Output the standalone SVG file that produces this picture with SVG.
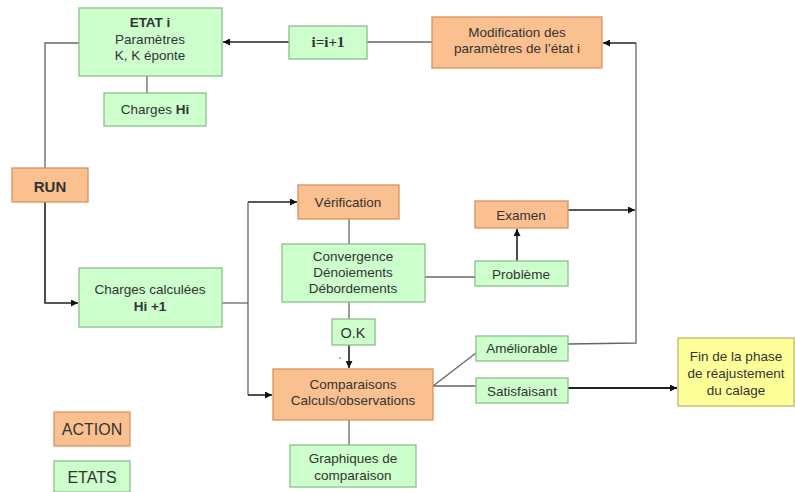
<svg xmlns="http://www.w3.org/2000/svg" width="795" height="492" viewBox="0 0 795 492">
<style>
.a{fill:#FAC090;stroke:#D9925F;stroke-width:1.3}
.s{fill:#CCFFCC;stroke:#8DBF8D;stroke-width:1.3}
.y{fill:#FFFF99;stroke:#B8B870;stroke-width:1.3}
text{font-family:"Liberation Sans",Arial,sans-serif;font-size:13.5px;fill:#333;text-anchor:middle}
.b{font-weight:bold}
.t{font-family:"Liberation Serif","Times New Roman",serif;font-weight:bold;font-size:15px}
.l{fill:none;stroke:#666;stroke-width:1.3}
.k{fill:none;stroke:#222;stroke-width:1.6}
</style>
<defs>
<marker id="ar" viewBox="0 0 10 10" refX="10" refY="5" markerWidth="7" markerHeight="7" markerUnits="userSpaceOnUse" orient="auto">
<path d="M0,0 L10,5 L0,10 z" fill="#111"/>
</marker>
</defs>
<rect width="795" height="492" fill="#fff"/>
<g id="connectors">
<path class="l" d="M147,76 V93"/>
<path class="k" d="M289,42 H223" marker-end="url(#ar)"/>
<path class="l" d="M367,42 H432"/>
<path class="l" d="M79,43 H45 V168"/>
<path class="k" d="M45,202 V303 H78" marker-end="url(#ar)"/>
<path class="l" d="M222,303 H248"/>
<path class="k" d="M248,202 H297" marker-end="url(#ar)"/>
<path class="l" d="M248,202 V395"/>
<path class="k" d="M248,395 H272" marker-end="url(#ar)"/>
<path class="l" d="M349,219 V244"/>
<path class="l" d="M349,302 V319"/>
<path class="k" d="M349,345 V368" marker-end="url(#ar)"/>
<path class="l" d="M349,420 V445"/>
<path class="l" d="M425,277 H475"/>
<path class="k" d="M517,261 V229" marker-end="url(#ar)"/>
<path class="k" d="M568,210 H635" marker-end="url(#ar)"/>
<path class="l" d="M568,344 L636,343 V43"/>
<path class="k" d="M636,43 H603" marker-end="url(#ar)"/>
<path class="l" d="M433,386 L476,353"/>
<path class="l" d="M433,386 H476"/>
<path class="k" style="stroke-width:2.2" d="M568,388 H677" marker-end="url(#ar)"/>
<circle cx="340" cy="358" r="0.8" fill="#555"/>
</g>
<g id="etat-i"><rect class="s" x="79" y="8" width="143" height="68"/><text x="150" y="27" class="b">ETAT i</text><text x="150" y="44">Paramètres</text><text x="150" y="60">K, K éponte</text></g>
<g id="charges-hi"><rect class="s" x="104" y="93" width="102" height="33"/><text x="155" y="114">Charges <tspan class="b">Hi</tspan></text></g>
<g id="incr"><rect class="s" x="289" y="26" width="78" height="33"/><text x="328" y="47" class="t">i=i+1</text></g>
<g id="modification"><rect class="a" x="432" y="17" width="170" height="51"/><text x="517" y="37">Modification des</text><text x="517" y="53">paramètres de l’état i</text></g>
<g id="run"><rect class="a" x="12" y="168" width="76" height="34"/><text x="50" y="192" class="b" style="font-size:15px">RUN</text></g>
<g id="charges-calc"><rect class="s" x="79" y="268" width="143" height="59"/><text x="150" y="294">Charges calculées</text><text x="150" y="311" class="b">Hi +1</text></g>
<g id="verification"><rect class="a" x="298" y="185" width="101" height="34"/><text x="348" y="207">Vérification</text></g>
<g id="convergence"><rect class="s" x="282" y="244" width="143" height="58"/><text x="353" y="261">Convergence</text><text x="353" y="277">Dénoiements</text><text x="353" y="293">Débordements</text></g>
<g id="ok"><rect class="s" x="332" y="319" width="43" height="26"/><text x="353" y="338" style="font-size:14.5px">O.K</text></g>
<g id="comparaisons"><rect class="a" x="273" y="369" width="160" height="51"/><text x="353" y="389">Comparaisons</text><text x="353" y="405">Calculs/observations</text></g>
<g id="graphiques"><rect class="s" x="290" y="445" width="126" height="42"/><text x="353" y="463">Graphiques de</text><text x="353" y="480">comparaison</text></g>
<g id="examen"><rect class="a" x="475" y="201" width="93" height="27"/><text x="521" y="220">Examen</text></g>
<g id="probleme"><rect class="s" x="475" y="261" width="93" height="25"/><text x="521" y="279">Problème</text></g>
<g id="ameliorable"><rect class="s" x="476" y="336" width="92" height="25"/><text x="522" y="353">Améliorable</text></g>
<g id="satisfaisant"><rect class="s" x="476" y="378" width="92" height="25"/><text x="522" y="396">Satisfaisant</text></g>
<g id="fin"><rect class="y" x="678" y="338" width="116" height="68"/><text x="736" y="361">Fin de la phase</text><text x="736" y="378">de réajustement</text><text x="736" y="395">du calage</text></g>
<g id="legend-action"><rect class="a" x="54" y="412" width="76" height="34"/><text x="92" y="435" style="font-size:16px">ACTION</text></g>
<g id="legend-etats"><rect class="s" x="54" y="461" width="76" height="31"/><text x="92" y="483" style="font-size:16px">ETATS</text></g>
</svg>
